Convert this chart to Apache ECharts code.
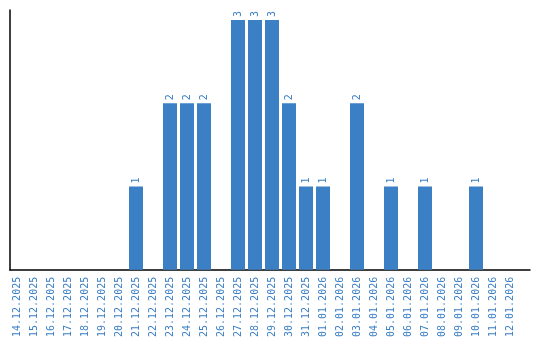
<!DOCTYPE html>
<html><head><meta charset="utf-8">
<script src="https://cdn.jsdelivr.net/npm/echarts@6/dist/echarts.min.js"></script>
<style>html,body{margin:0;padding:0;background:#fff}#c{width:540px;height:340px}</style>
</head><body><div id="c"></div>
<script>
const categories = ["14.12.2025","15.12.2025","16.12.2025","17.12.2025","18.12.2025","19.12.2025","20.12.2025","21.12.2025","22.12.2025","23.12.2025","24.12.2025","25.12.2025","26.12.2025","27.12.2025","28.12.2025","29.12.2025","30.12.2025","31.12.2025","01.01.2026","02.01.2026","03.01.2026","04.01.2026","05.01.2026","06.01.2026","07.01.2026","08.01.2026","09.01.2026","10.01.2026","11.01.2026","12.01.2026"];
const values = [0,0,0,0,0,0,0,1,0,2,2,2,0,3,3,3,2,1,1,0,2,0,1,0,1,0,0,1,0,0];
const blue = '#3b7fc4';
const chart = echarts.init(document.getElementById('c'), null, {renderer:'canvas'});
chart.setOption({
  animation:false,
  grid:[
    {left:8.5,right:21.5,top:10,bottom:70,containLabel:false},
    {left:10,right:10,top:10,bottom:70,containLabel:false}
  ],
  xAxis:[
    {type:'category',data:categories,gridIndex:0,
     axisLine:{show:false},axisTick:{show:false},
     axisLabel:{rotate:90,interval:0,color:blue,fontFamily:'DejaVu Sans Mono',fontSize:10,margin:7}},
    {type:'value',gridIndex:1,min:0,max:1,
     axisLine:{show:true,lineStyle:{color:'#000',width:1.5}},axisTick:{show:false},
     axisLabel:{show:false},splitLine:{show:false}}
  ],
  yAxis:[
    {type:'value',gridIndex:0,min:0,max:3.12,
     axisLine:{show:false},axisTick:{show:false},axisLabel:{show:false},splitLine:{show:false}},
    {type:'value',gridIndex:1,min:0,max:1,
     axisLine:{show:true,lineStyle:{color:'#000',width:1.5}},axisTick:{show:false},
     axisLabel:{show:false},splitLine:{show:false}}
  ],
  series:[{type:'bar',xAxisIndex:0,yAxisIndex:0,
    data:values.map(v=>v===0?{value:0,label:{show:false}}:v),barWidth:14,
    itemStyle:{color:blue},
    label:{show:true,position:'top',rotate:90,align:'left',verticalAlign:'middle',distance:3,color:blue,fontFamily:'DejaVu Sans Mono',fontSize:10}}]
});
</script></body></html>
